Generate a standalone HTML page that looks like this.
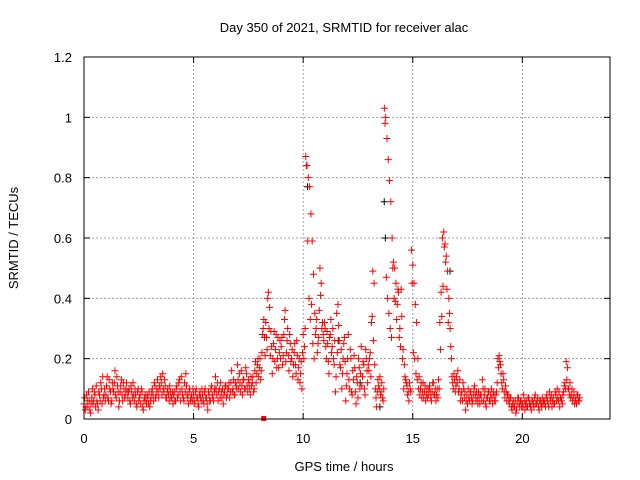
<!DOCTYPE html>
<html><head><meta charset="utf-8"><style>
body{margin:0;background:#fff}
svg{display:block;font-family:"Liberation Sans",sans-serif;font-size:13px}
</style></head><body>
<svg id="chart" width="640" height="480">
<text x="344" y="32" text-anchor="middle">Day 350 of 2021, SRMTID for receiver alac</text>
<text x="344" y="471" text-anchor="middle">GPS time / hours</text>
<text transform="translate(18,238) rotate(-90)" text-anchor="middle">SRMTID / TECUs</text>
<g id="grid"></g><g id="ticks"></g><g id="marks"></g>
<rect x="84" y="57" width="526" height="362" fill="none" stroke="#000" stroke-width="1"/>
</svg>
<script>
const xTicks=[0,5,10,15,20];
const yTicks=[0,0.2,0.4,0.6,0.8,1,1.2];
const yTickLabels=["0","0.2","0.4","0.6","0.8","1","1.2"];
const tStart=0, tStep=1/17;
const redValues=[
0.05,0.03,0.08,0.04,0.06,0.02,0.07,0.05,0.09,0.04,0.06,0.03,0.08,0.12,0.05,0.07,0.1,
0.08,0.14,0.06,0.1,0.05,0.12,0.09,0.16,0.07,0.11,0.04,0.09,0.13,0.06,0.1,0.08,0.12,
0.07,0.1,0.05,0.09,0.12,0.06,0.08,0.04,0.1,0.07,0.05,0.09,0.03,0.07,0.06,0.08,0.05,
0.04,0.07,0.1,0.06,0.11,0.08,0.13,0.07,0.1,0.12,0.15,0.09,0.11,0.07,0.1,0.06,0.09,
0.07,0.05,0.09,0.06,0.11,0.08,0.13,0.06,0.1,0.07,0.12,0.15,0.08,0.05,0.1,0.07,0.06,
0.08,0.05,0.1,0.07,0.04,0.09,0.06,0.08,0.05,0.1,0.07,0.03,0.08,0.06,0.11,0.07,0.09,
0.14,0.08,0.06,0.1,0.12,0.07,0.05,0.09,0.11,0.08,0.1,0.07,0.12,0.09,0.13,0.08,0.11,
0.18,0.1,0.12,0.16,0.08,0.13,0.1,0.15,0.09,0.12,0.08,0.11,0.14,0.1,0.19,0.15,0.2,
0.17,0.13,0.22,0.3,0.27,0.32,0.23,0.42,0.37,0.29,0.15,0.25,0.19,0.28,0.2,0.17,0.26,
0.24,0.18,0.28,0.36,0.22,0.3,0.16,0.25,0.2,0.14,0.22,0.18,0.26,0.13,0.2,0.15,0.1,
0.28,0.24,0.87,0.84,0.8,0.77,0.68,0.59,0.48,0.35,0.3,0.22,0.27,0.5,0.45,0.32,0.26,
0.3,0.2,0.25,0.15,0.28,0.22,0.3,0.18,0.09,0.35,0.38,0.26,0.17,0.1,0.2,0.27,0.06,
0.15,0.28,0.1,0.2,0.08,0.13,0.17,0.05,0.12,0.2,0.1,0.24,0.14,0.18,0.08,0.2,0.12,
0.16,0.22,0.32,0.49,0.45,0.1,0.04,0.13,0.1,0.08,0.12,0.06,1.03,1.0,0.93,0.86,0.79,
0.72,0.6,0.52,0.5,0.45,0.38,0.42,0.3,0.43,0.2,0.1,0.14,0.12,0.08,0.06,0.1,0.56,
0.51,0.45,0.38,0.32,0.2,0.14,0.1,0.07,0.12,0.09,0.06,0.1,0.08,0.11,0.07,0.09,0.12,
0.08,0.06,0.1,0.13,0.32,0.42,0.6,0.62,0.58,0.54,0.49,0.4,0.3,0.2,0.12,0.15,0.09,
0.14,0.16,0.1,0.06,0.09,0.12,0.07,0.03,0.08,0.1,0.06,0.09,0.05,0.08,0.11,0.06,0.07,
0.09,0.05,0.08,0.13,0.06,0.1,0.04,0.07,0.09,0.06,0.1,0.05,0.08,0.06,0.09,0.2,0.21,
0.18,0.12,0.15,0.09,0.11,0.06,0.08,0.05,0.07,0.03,0.06,0.04,0.02,0.05,0.07,0.04,0.06,
0.05,0.08,0.03,0.06,0.04,0.07,0.05,0.03,0.06,0.04,0.08,0.05,0.07,0.03,0.06,0.04,0.05,
0.06,0.04,0.08,0.05,0.09,0.06,0.04,0.07,0.05,0.08,0.1,0.06,0.04,0.07,0.05,0.09,0.12,
0.19,0.17,0.1,0.12,0.08,0.06,0.09,0.07,0.05,0.08,0.06];
const redValues2=[
0.07,0.04,0.06,0.09,0.03,0.05,0.1,0.06,0.08,0.11,0.05,0.09,0.06,0.1,0.14,0.08,0.06,
0.11,0.07,0.13,0.09,0.06,0.1,0.12,0.08,0.14,0.09,0.06,0.11,0.08,0.12,0.07,0.1,0.09,
0.09,0.06,0.11,0.07,0.08,0.1,0.05,0.09,0.06,0.08,0.1,0.04,0.06,0.08,0.05,0.07,0.09,
0.06,0.09,0.08,0.12,0.07,0.1,0.09,0.11,0.14,0.08,0.1,0.13,0.07,0.09,0.08,0.11,0.07,
0.09,0.08,0.06,0.1,0.07,0.12,0.09,0.14,0.08,0.06,0.09,0.11,0.07,0.09,0.06,0.08,0.1,
0.06,0.09,0.07,0.05,0.08,0.07,0.1,0.06,0.09,0.07,0.05,0.09,0.06,0.1,0.08,0.06,0.1,
0.1,0.12,0.09,0.07,0.09,0.1,0.08,0.11,0.07,0.1,0.12,0.09,0.16,0.1,0.08,0.12,0.1,
0.13,0.15,0.09,0.11,0.13,0.1,0.17,0.11,0.13,0.1,0.14,0.12,0.09,0.16,0.12,0.18,0.14,
0.2,0.16,0.28,0.33,0.21,0.27,0.4,0.3,0.21,0.24,0.2,0.29,0.23,0.17,0.27,0.22,0.2,
0.27,0.21,0.33,0.19,0.26,0.21,0.28,0.19,0.23,0.18,0.25,0.15,0.21,0.17,0.12,0.19,0.22,
0.2,0.3,0.84,0.59,0.4,0.33,0.38,0.25,0.2,0.28,0.33,0.25,0.36,0.41,0.3,0.28,0.32,
0.24,0.29,0.19,0.27,0.33,0.24,0.2,0.26,0.14,0.22,0.31,0.18,0.23,0.15,0.25,0.19,0.11,
0.2,0.13,0.23,0.09,0.16,0.21,0.09,0.14,0.07,0.17,0.15,0.11,0.19,0.1,0.23,0.16,0.18,
0.2,0.14,0.34,0.26,0.18,0.07,0.09,0.11,0.14,0.09,0.07,0.1,0.98,0.47,0.4,0.35,0.3,
0.27,0.5,0.4,0.39,0.33,0.43,0.27,0.24,0.34,0.23,0.18,0.13,0.11,0.09,0.12,0.09,0.45,
0.22,0.2,0.15,0.13,0.1,0.08,0.12,0.09,0.07,0.11,0.08,0.07,0.1,0.09,0.06,0.12,0.08,
0.1,0.08,0.07,0.1,0.23,0.34,0.44,0.57,0.52,0.43,0.32,0.35,0.24,0.14,0.1,0.13,0.11,
0.12,0.09,0.13,0.08,0.06,0.1,0.09,0.06,0.05,0.07,0.09,0.07,0.06,0.1,0.08,0.09,0.05,
0.07,0.08,0.06,0.1,0.08,0.05,0.07,0.09,0.06,0.08,0.07,0.09,0.06,0.08,0.12,0.17,0.19,
0.15,0.1,0.13,0.07,0.09,0.08,0.06,0.07,0.04,0.05,0.04,0.06,0.03,0.07,0.05,0.06,0.04,
0.04,0.06,0.05,0.04,0.07,0.05,0.04,0.06,0.05,0.07,0.05,0.06,0.04,0.06,0.05,0.07,0.06,
0.05,0.07,0.06,0.04,0.07,0.08,0.06,0.05,0.09,0.06,0.07,0.09,0.07,0.06,0.08,0.11,0.1,
0.13,0.1,0.08,0.07,0.1,0.07,0.05,0.06,0.08,0.06,0.07];
const blackTimes=[10.2,13.7,13.75,16.7,13.5,11.6,12.6];
const blackValues=[0.77,0.72,0.6,0.49,0.04,0.26,0.12];
const X0=84,X1=610,Y0=419,Y1=57,XMAX=24,YMAX=1.2;
const xScale=v=>X0+(X1-X0)*v/XMAX;
const yScale=v=>Y0-(Y0-Y1)*v/YMAX;
const NS="http://www.w3.org/2000/svg";
const grid=document.getElementById('grid'),ticks=document.getElementById('ticks'),marks=document.getElementById('marks');
function mk(tag,attrs,parent){const e=document.createElementNS(NS,tag);for(const k in attrs)e.setAttribute(k,attrs[k]);parent.appendChild(e);return e;}
xTicks.forEach(v=>{const x=xScale(v);
 if(v>0){const g=mk('line',{x1:x,x2:x,y1:Y1,y2:Y0,stroke:'#a0a0a0','stroke-dasharray':'2,2'},grid);
 
 }
 mk('line',{x1:x,x2:x,y1:Y0,y2:Y0-6,stroke:'#000'},ticks);
 mk('line',{x1:x,x2:x,y1:Y1,y2:Y1+6,stroke:'#000'},ticks);
 const t=mk('text',{x:x,y:Y0+24,'text-anchor':'middle'},ticks);t.textContent=v;
 
 
});
yTicks.forEach((v,i)=>{const y=yScale(v);
 if(v>0&&v<YMAX){const g=mk('line',{x1:X0,x2:X1,y1:y,y2:y,stroke:'#a0a0a0','stroke-dasharray':'2,2'},grid);
 
 }
 mk('line',{x1:X0,x2:X0+6,y1:y,y2:y,stroke:'#000'},ticks);
 mk('line',{x1:X1,x2:X1-6,y1:y,y2:y,stroke:'#000'},ticks);
 const t=mk('text',{x:X0-12,y:y+5,'text-anchor':'end'},ticks);t.textContent=yTickLabels[i];
 
 
});
function plus(t,v,color,name){const x=xScale(t),y=yScale(v);
 const p=mk('path',{d:`M${x-3.5},${y}h7M${x},${y-3.5}v7`,stroke:color,'stroke-width':1,fill:'none'},marks);
 
 }
blackTimes.forEach((t,i)=>plus(t,blackValues[i],'#000','black-point'));
redValues.forEach((v,i)=>plus(tStart+i*tStep,v,'#f00','red-point'));
redValues2.forEach((v,i)=>plus(tStart+(i+0.5)*tStep,v,'#f00','red-point'));
const sq=mk('rect',{x:xScale(8.2)-2.5,y:yScale(0)-3,width:5,height:5,fill:'#f00'},marks);


</script>
</body></html>
